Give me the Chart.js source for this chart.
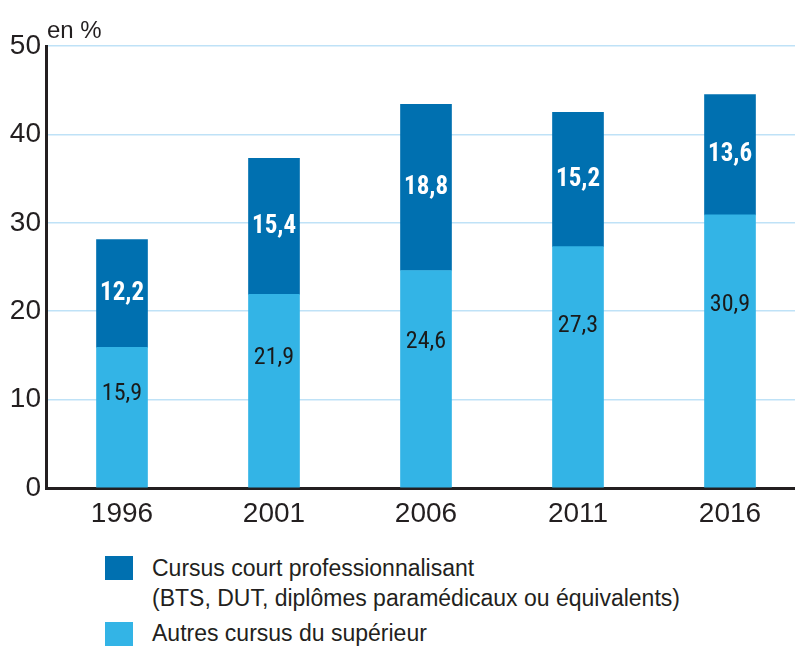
<!DOCTYPE html>
<html lang="fr">
<head>
<meta charset="utf-8">
<title>Cursus du supérieur</title>
<script src="https://cdn.jsdelivr.net/npm/chart.js@4.4.1/dist/chart.umd.min.js"></script>
<style>
    html, body { margin: 0; padding: 0; background: #fff; overflow: hidden; }
    body { width: 795px; height: 648px; position: relative; font-family: 'Liberation Sans', Arial, sans-serif; color: #231f20; }
    #wrap { position: absolute; left: 0; top: 0; width: 806px; height: 540px; }
    .legende { position: absolute; left: 105px; font-size: 23px; line-height: 30px; }
    .legende .carre { position: absolute; left: 0; width: 28px; height: 24px; }
    .legende .texte { position: absolute; left: 47px; white-space: nowrap; }
</style>
</head>
<body>
<div id="wrap"><canvas id="graphique"></canvas></div>

<div class="legende" style="top:556px">
    <div class="carre" style="top:0; background:#0070b0"></div>
    <div class="texte" style="top:-3px">Cursus court professionnalisant<br>(BTS, DUT, diplômes paramédicaux ou équivalents)</div>
</div>
<div class="legende" style="top:622px">
    <div class="carre" style="top:0; background:#33b4e6"></div>
    <div class="texte" style="top:-4px">Autres cursus du supérieur</div>
</div>

<script>
const annees = ['1996', '2001', '2006', '2011', '2016'];
const autresCursus = [15.9, 21.9, 24.6, 27.3, 30.9];
const cursusCourt = [12.2, 15.4, 18.8, 15.2, 13.6];
const ticksY = [0, 10, 20, 30, 40, 50];

const police = "'Liberation Sans', Arial, sans-serif";
const policeEtroite = "'Roboto Condensed', 'Liberation Sans Narrow', 'Liberation Sans', sans-serif";
Chart.defaults.font.family = police;
Chart.defaults.color = '#231f20';

const formatoVirgule = (n) => n.toFixed(1).replace('.', ',');

const etiquettes = {
    id: 'etiquettes',
    afterDatasetsDraw(chart) {
        const ctx = chart.ctx;
        ctx.save();
        ctx.textAlign = 'center';
        ctx.textBaseline = 'middle';
        chart.data.datasets.forEach((ds, i) => {
            const meta = chart.getDatasetMeta(i);
            meta.data.forEach((bar, j) => {
                const haut = bar.y;
                const bas = bar.base;
                let y;
                if (i === 0) {
                    ctx.font = '24px ' + policeEtroite;
                    ctx.fillStyle = '#1a1a1a';
                    y = haut + (bas - haut) * 0.33;
                } else {
                    ctx.font = 'bold 25px ' + policeEtroite;
                    ctx.fillStyle = '#ffffff';
                    y = (haut + bas) / 2;
                }
                ctx.fillText(formatoVirgule(ds.data[j]), bar.x, y);
            });
        });
        // unité
        ctx.font = '24px ' + police;
        ctx.fillStyle = '#231f20';
        ctx.textAlign = 'left';
        ctx.textBaseline = 'alphabetic';
        ctx.fillText('en %', chart.chartArea.left + 1, chart.chartArea.top - 8);
        ctx.restore();
    }
};

const ctx = document.getElementById('graphique').getContext('2d');
new Chart(ctx, {
    type: 'bar',
    data: {
        labels: annees,
        datasets: [
            { label: 'Autres cursus du supérieur', data: autresCursus, backgroundColor: '#33b4e6', borderWidth: 0, barThickness: 51 },
            { label: 'Cursus court professionnalisant', data: cursusCourt, backgroundColor: '#0070b0', borderWidth: 0, barThickness: 51 }
        ]
    },
    options: {
        responsive: true,
        maintainAspectRatio: false,
        animation: false,
        layout: { padding: { top: 46, right: 0, left: 0, bottom: 0 } },
        plugins: {
            legend: { display: false },
            tooltip: { enabled: false }
        },
        scales: {
            x: {
                stacked: true,
                grid: { display: false, drawTicks: false },
                border: { color: '#231f20', width: 3 },
                ticks: { font: { size: 28 }, padding: 9, color: '#231f20' },
                afterFit: (scale) => { scale.height = 52; }
            },
            y: {
                stacked: true,
                min: 0,
                max: 50,
                afterBuildTicks: (scale) => { scale.ticks = ticksY.map(v => ({ value: v })); },
                grid: { color: '#bfe2f7', lineWidth: 1.5, drawTicks: false },
                border: { color: '#231f20', width: 3 },
                ticks: { font: { size: 28 }, padding: 5, color: '#231f20' },
                afterFit: (scale) => { scale.width = 46; }
            }
        }
    },
    plugins: [etiquettes]
});
</script>
</body>
</html>
